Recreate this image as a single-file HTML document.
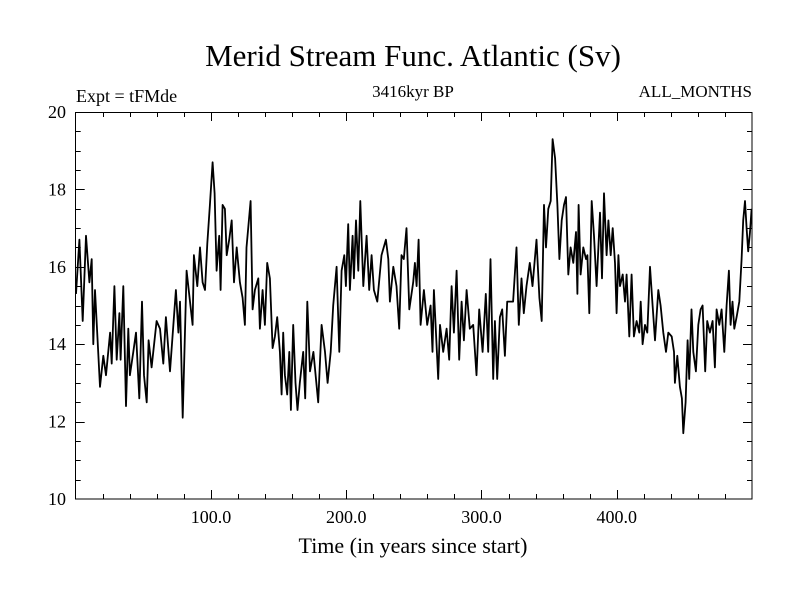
<!DOCTYPE html>
<html><head><meta charset="utf-8"><style>
body{margin:0;background:#fff;}
svg{display:block;font-family:"Liberation Serif",serif;}
</style></head><body>
<svg id="chart" width="800" height="600" viewBox="0 0 800 600">
<rect width="800" height="600" fill="#fff"/>
<text x="413" y="66" font-size="31" text-anchor="middle">Merid Stream Func. Atlantic (Sv)</text>
<text x="76" y="102" font-size="18">Expt = tFMde</text>
<text x="413" y="97" font-size="17" text-anchor="middle">3416kyr BP</text>
<text x="752" y="97" font-size="17" text-anchor="end">ALL_MONTHS</text>
<g id="axes"></g>
<path id="series" fill="none" stroke="#000" stroke-width="1.8" stroke-linejoin="round"/>
<rect x="75.5" y="112.5" width="676.5" height="386.5" fill="none" stroke="#000" stroke-width="1"/>
<text x="413" y="553" font-size="22" text-anchor="middle">Time (in years since start)</text>
</svg>
<script>
const years = [0.2,2.7,5.2,7.6,10.1,11.8,13.0,14.3,18.0,20.4,22.4,25.4,26.6,28.6,30.3,32.3,33.2,35.2,37.2,38.9,40.1,42.6,44.6,47.0,49.0,50.5,52.5,53.9,56.1,59.8,62.3,64.8,66.7,69.7,74.1,75.9,77.1,79.1,82.0,84.5,86.4,87.4,89.9,91.9,93.8,95.6,97.3,99.2,101.2,102.7,104.2,106.1,107.1,108.6,110.3,111.6,113.5,115.3,117.0,119.0,121.4,123.4,125.1,126.3,129.3,130.8,132.5,135.0,136.2,138.2,139.9,141.6,143.6,145.6,147.3,149.0,151.0,152.2,153.4,154.7,156.4,157.9,159.1,160.8,162.5,164.0,165.7,168.2,169.7,171.2,
173.2,175.7,179.3,181.8,184.3,186.2,188.5,190.4,192.9,194.9,196.6,198.6,199.8,201.5,202.7,204.7,205.7,207.2,208.9,210.4,212.6,215.1,217.0,218.8,220.5,223.0,226.1,229.3,231.1,232.3,234.8,237.2,239.2,240.9,242.6,244.6,246.6,249.5,250.8,252.0,253.5,255.0,257.4,259.9,262.4,263.8,264.8,268.0,269.3,271.7,274.2,276.1,277.9,279.6,281.6,283.5,285.3,287.0,289.0,291.4,293.9,296.3,298.3,300.8,303.2,305.0,306.7,308.7,309.9,311.6,313.6,315.3,317.3,319.0,323.4,325.9,327.6,329.6,331.3,333.3,335.7,337.7,340.7,
342.8,344.5,346.2,347.7,349.4,351.2,352.6,354.4,356.1,357.6,359.3,361.0,362.5,364.2,365.9,367.9,369.9,370.9,371.8,373.3,375.3,377.3,378.3,379.7,381.5,383.2,385.1,387.6,389.1,390.6,392.5,393.8,395.5,397.0,398.7,399.9,401.2,402.4,404.4,406.1,407.3,409.3,411.0,412.7,414.7,416.7,417.7,419.1,420.9,422.6,424.6,426.5,428.3,430.7,432.4,434.4,436.4,438.1,440.6,442.3,443.0,444.8,446.7,448.2,449.2,450.9,452.4,453.6,455.3,456.6,458.5,460.3,462.0,463.5,465.4,466.9,468.9,470.9,472.6,473.8,475.8,477.5,479.5,481.2,482.9,484.2,485.6,486.9,488.6,490.6,492.3,493.5,494.8,496.0,497.2,498.5,499.7];
const values = [15.3,16.7,14.6,16.8,15.6,16.2,14.0,15.4,12.9,13.7,13.2,14.3,13.5,15.5,13.6,14.8,13.6,15.5,12.4,14.4,13.2,13.8,14.3,12.6,15.1,13.2,12.5,14.1,13.4,14.6,14.4,13.5,14.7,13.3,15.4,14.3,15.1,12.1,15.9,15.1,14.5,16.3,15.5,16.5,15.6,15.4,16.6,17.6,18.7,17.9,15.9,16.8,15.4,17.6,17.5,16.3,16.7,17.2,15.6,16.5,15.6,15.2,14.5,16.5,17.7,14.9,15.4,15.7,14.4,15.4,14.5,16.1,15.7,13.9,14.2,14.7,13.8,12.7,14.3,13.2,12.7,13.8,12.3,14.5,13.0,12.3,13.0,13.8,12.6,15.1,
13.3,13.8,12.5,14.5,13.8,13.0,13.8,15.0,16.0,13.8,15.9,16.3,15.5,17.1,15.4,16.8,15.7,17.2,15.9,17.7,15.5,16.8,15.4,16.3,15.4,15.1,16.3,16.7,16.2,15.1,16.0,15.5,14.4,16.3,16.2,17.0,14.9,15.6,16.1,15.5,16.7,14.5,15.4,14.5,15.0,13.8,15.4,13.1,14.5,13.8,14.4,13.6,15.5,14.3,15.9,13.6,15.1,14.1,15.4,14.4,14.5,13.2,14.9,13.8,15.3,13.8,16.2,13.1,14.6,13.1,14.7,14.9,13.7,15.1,15.1,16.5,14.5,15.7,14.8,15.5,16.1,15.5,16.7,
15.2,14.6,17.6,16.5,17.5,17.7,19.3,18.8,17.6,16.2,17.2,17.6,17.8,15.8,16.5,16.1,16.9,15.3,17.6,15.8,16.5,16.2,16.3,14.8,17.7,16.8,15.5,17.4,15.7,17.9,16.3,17.2,16.3,17.0,16.1,14.8,16.3,15.5,15.8,15.1,15.8,14.2,15.8,14.2,14.6,14.3,15.1,14.0,14.5,14.3,16.0,15.0,14.1,15.4,15.0,14.3,13.8,14.3,14.2,13.8,13.0,13.7,12.9,12.6,11.7,12.5,14.1,13.1,14.9,13.8,13.3,14.5,14.9,15.0,13.3,14.6,14.3,14.6,13.4,14.9,14.5,14.9,13.8,15.0,15.9,14.5,15.1,14.4,14.7,15.1,16.2,17.2,17.7,17.0,16.4,16.9,17.5];
const xTickLabels = ["100.0","200.0","300.0","400.0"];
const xTickValues = [100,200,300,400];
const yTickLabels = ["10","12","14","16","18","20"];
const yTickValues = [10,12,14,16,18,20];

const X0=75.7, X1=752, Y0=499, Y1=112, XMIN=0, XMAX=500, YMIN=10, YMAX=20;
const sx = v => X0 + (v - XMIN) / (XMAX - XMIN) * (X1 - X0);
const sy = v => Y0 - (v - YMIN) / (YMAX - YMIN) * (Y0 - Y1);
const NS = "http://www.w3.org/2000/svg";
const axes = document.getElementById('axes');
function line(x1,y1,x2,y2,name){
  const l=document.createElementNS(NS,'line');
  l.setAttribute('x1',x1);l.setAttribute('y1',y1);l.setAttribute('x2',x2);l.setAttribute('y2',y2);
  l.setAttribute('stroke','#000');l.setAttribute('stroke-width','1');
  
  
  axes.appendChild(l);
}
function text(x,y,s,anchor,size,name){
  const t=document.createElementNS(NS,'text');
  t.setAttribute('x',x);t.setAttribute('y',y);t.setAttribute('text-anchor',anchor);t.setAttribute('font-size',size);
  t.textContent=s;
  
  
  axes.appendChild(t);
}
for(let v=20; v<500; v+=20){
  const x=Math.round(sx(v))+0.5, major = v%100===0, len = major?9:5;
  line(x,Y0,x,Y0-len,'x-tick');
  line(x,Y1,x,Y1+len,'x-tick-top');
}
for(let v=10.5; v<20; v+=0.5){
  const y=Math.round(sy(v))+0.5, major = Math.abs(v%2)<1e-6, len = major?9:5;
  line(X0,y,X0+len,y,'y-tick');
  line(X1,y,X1-len,y,'y-tick-right');
}
xTickValues.forEach((v,i)=>text(sx(v),523,xTickLabels[i],'middle',18,'x-tick-label'));
yTickValues.forEach((v,i)=>text(66,sy(v)+6,yTickLabels[i],'end',18,'y-tick-label'));
let d='';
years.forEach((yr,i)=>{ d += (i?'L':'M') + sx(yr).toFixed(1) + ' ' + sy(values[i]).toFixed(1) + ' '; });
document.getElementById('series').setAttribute('d', d);
</script>
</body></html>
